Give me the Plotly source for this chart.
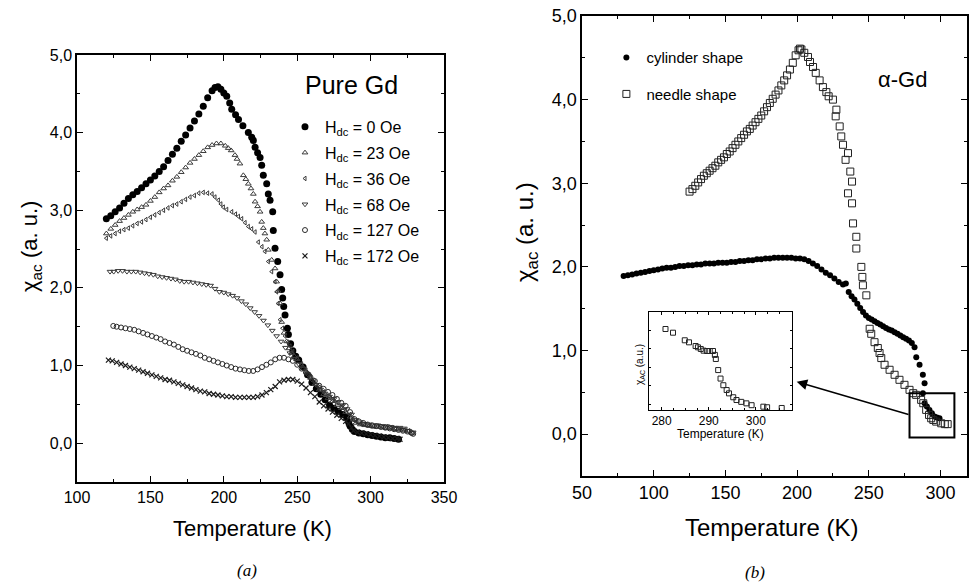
import plotly.graph_objects as go

# ---------------- panel (a): Pure Gd ----------------
T_h0 = [120, 123, 126, 129, 132, 135, 138, 141, 144, 147, 150, 153, 156, 159, 162, 165, 168, 171, 174, 177,
        180, 183, 186, 189, 192, 194, 196, 198, 200, 202, 204, 205.4, 208, 210, 213, 216.7, 219, 220.1, 221.3, 223,
        224.7, 225.8, 226.9, 229.2, 230.3, 231.5, 233.3, 233.7, 234.9, 236.7, 238.3, 239.4, 240.1, 240.8, 241.7, 243.3,
        244, 245.5, 247, 249, 251, 254, 257, 260, 263, 266, 269, 272, 275, 278, 281, 283.7, 285, 286, 287.5, 289,
        292, 295, 298, 301, 304, 307, 310, 313, 316, 319]
chi_h0 = [2.89, 2.93, 2.98, 3.03, 3.09, 3.15, 3.20, 3.24, 3.29, 3.34, 3.39, 3.44, 3.50, 3.56, 3.64, 3.72, 3.80, 3.89, 3.97, 4.06,
          4.15, 4.24, 4.34, 4.45, 4.54, 4.58, 4.59, 4.56, 4.51, 4.47, 4.38, 4.30, 4.23, 4.17, 4.09, 4.00, 3.94, 3.90, 3.81, 3.74,
          3.68, 3.58, 3.45, 3.34, 3.21, 3.13, 2.98, 2.74, 2.51, 2.34, 2.17, 1.98, 1.87, 1.76, 1.65, 1.48,
          1.40, 1.28, 1.19, 1.12, 1.07, 0.98, 0.88, 0.78, 0.70, 0.63, 0.56, 0.49, 0.45, 0.41, 0.37, 0.33, 0.27, 0.22, 0.18, 0.15,
          0.13, 0.12, 0.11, 0.10, 0.09, 0.08, 0.07, 0.07, 0.06, 0.05]

T_h23 = [120, 123, 126, 129, 132, 135, 138, 141, 144, 147, 150, 153, 156, 159, 162, 165, 168, 171, 174, 177,
         180, 183, 186, 189, 192, 195, 198, 201, 203, 205, 207.6, 209, 211, 213.3, 215, 216.7, 218.5, 220.1, 221.3, 223,
         224.7, 225.8, 226.9, 228, 229.2, 230.3, 232.6, 234.9, 236, 237, 238.3, 239.4, 241, 242.8, 244.5, 246.3, 248, 250,
         253, 256, 259, 262, 265, 268, 271, 274, 277, 280, 283, 286, 288, 290, 293, 296, 299, 302, 305, 308,
         311, 314, 317, 320, 323, 326, 328]
chi_h23 = [2.70, 2.76, 2.81, 2.86, 2.90, 2.94, 2.98, 3.01, 3.04, 3.07, 3.12, 3.17, 3.23, 3.28, 3.32, 3.38, 3.43, 3.49, 3.55, 3.61,
           3.66, 3.71, 3.76, 3.81, 3.84, 3.86, 3.86, 3.83, 3.80, 3.77, 3.71, 3.66, 3.60, 3.45, 3.40, 3.34, 3.28, 3.21, 3.11, 3.05,
           2.98, 2.85, 2.77, 2.70, 2.62, 2.49, 2.36, 2.25, 2.08, 1.96, 1.80, 1.56, 1.42, 1.31, 1.22, 1.16, 1.12, 1.08,
           1.00, 0.92, 0.84, 0.76, 0.69, 0.63, 0.58, 0.54, 0.49, 0.45, 0.40, 0.34, 0.30, 0.26, 0.24, 0.23, 0.22, 0.21, 0.21, 0.20,
           0.19, 0.19, 0.18, 0.17, 0.16, 0.15, 0.13]

T_h36 = [120, 123, 126, 129, 132, 135, 138, 141, 144, 147, 150, 153, 156, 159, 162, 165, 168, 171, 174, 177,
         180, 183, 186, 189, 192, 194, 196.3, 198, 199.7, 202, 205.4, 208, 210, 212.2, 214.5, 216.7, 219, 221.3, 223.5, 226,
         228, 230.3, 232.6, 234.9, 236, 237, 238.3, 240, 241.7, 243.5, 245.1, 247, 250, 253, 256, 259, 262, 265, 268, 271,
         274, 277, 280, 283, 286, 288, 290, 293, 296, 299, 302, 305, 308, 311, 314, 317, 320, 323, 326]
chi_h36 = [2.64, 2.67, 2.70, 2.73, 2.75, 2.77, 2.80, 2.83, 2.85, 2.88, 2.91, 2.94, 2.97, 3.00, 3.03, 3.06, 3.08, 3.11, 3.14, 3.17,
           3.19, 3.22, 3.23, 3.22, 3.21, 3.17, 3.13, 3.08, 3.04, 3.01, 2.98, 2.95, 2.92, 2.89, 2.84, 2.79, 2.76, 2.72, 2.59, 2.53,
           2.47, 2.34, 2.21, 2.08, 1.95, 1.80, 1.59, 1.48, 1.38, 1.30, 1.25, 1.18, 1.10, 1.02, 0.94, 0.86, 0.79, 0.72, 0.66, 0.61,
           0.56, 0.52, 0.47, 0.43, 0.37, 0.32, 0.28, 0.25, 0.24, 0.23, 0.22, 0.22, 0.21, 0.21, 0.20, 0.19, 0.18, 0.17, 0.16]

T_h68 = [122.5, 125, 128, 131, 134, 137, 140, 143, 146, 149, 152, 155, 158, 161, 164, 167, 170, 173, 176, 179,
         182, 185, 188, 191, 194, 197, 200, 203, 206, 209, 212, 215, 218, 221, 224, 227, 230, 233, 236, 239,
         242, 245, 248, 251, 254, 257, 260, 263, 266, 269, 272, 275, 278, 281, 284, 287, 290, 293, 296, 299,
         302, 305, 308, 311, 314, 317, 320, 323, 326, 329]
chi_h68 = [2.21, 2.21, 2.22, 2.22, 2.21, 2.21, 2.21, 2.20, 2.19, 2.18, 2.17, 2.15, 2.14, 2.13, 2.12, 2.11, 2.09, 2.08, 2.08, 2.07,
           2.06, 2.05, 2.04, 2.03, 1.99, 1.95, 1.94, 1.92, 1.90, 1.87, 1.83, 1.79, 1.74, 1.69, 1.64, 1.58, 1.52, 1.45, 1.38, 1.31,
           1.23, 1.16, 1.09, 1.02, 0.96, 0.89, 0.82, 0.75, 0.69, 0.64, 0.60, 0.57, 0.53, 0.49, 0.44, 0.37, 0.30, 0.27, 0.25, 0.24,
           0.23, 0.23, 0.22, 0.22, 0.21, 0.20, 0.20, 0.19, 0.16, 0.14]

T_h127 = [124.7, 127, 130, 133, 136, 139, 142, 145, 148, 151, 154, 157, 160, 163, 166, 169, 172, 175, 178, 181,
          184, 187, 190, 193, 196, 199, 202, 205, 208, 211, 214, 217, 220, 223, 226, 229, 232, 235, 238, 241,
          244, 247, 250, 253, 256, 259, 262, 265, 268, 271, 274, 277, 280, 283, 286, 289, 292, 295, 298, 301,
          304, 307, 310, 313, 316, 319, 322, 325, 328, 329]
chi_h127 = [1.51, 1.50, 1.49, 1.48, 1.47, 1.46, 1.44, 1.42, 1.40, 1.38, 1.36, 1.34, 1.31, 1.29, 1.27, 1.24, 1.21, 1.19, 1.17, 1.15,
            1.13, 1.10, 1.08, 1.06, 1.04, 1.02, 1.00, 0.98, 0.96, 0.95, 0.94, 0.93, 0.93, 0.95, 0.98, 1.01, 1.04, 1.08, 1.10, 1.10,
            1.08, 1.06, 1.01, 0.96, 0.91, 0.85, 0.80, 0.74, 0.70, 0.66, 0.62, 0.57, 0.52, 0.48, 0.40, 0.31, 0.28, 0.26, 0.24, 0.23,
            0.22, 0.21, 0.20, 0.19, 0.18, 0.17, 0.16, 0.15, 0.13, 0.12]

T_h172 = [121.4, 124, 127, 130, 133, 136, 139, 142, 145, 148, 151, 154, 157, 160, 163, 166, 169, 172, 175, 178,
          181, 184, 187, 190, 193, 196, 199, 202, 205, 208, 211, 214, 217, 220, 223, 226, 229, 232, 235, 238,
          241, 244, 247, 250, 253, 256, 259, 262, 265, 268, 271, 274, 277, 280, 283, 285, 287, 288.3, 291, 294,
          297, 300, 303, 306, 309, 312, 315, 318, 320]
chi_h172 = [1.07, 1.06, 1.04, 1.02, 1.00, 0.98, 0.96, 0.94, 0.92, 0.90, 0.88, 0.86, 0.84, 0.82, 0.81, 0.79, 0.77, 0.75, 0.73, 0.71,
            0.69, 0.67, 0.66, 0.64, 0.63, 0.62, 0.61, 0.60, 0.60, 0.59, 0.59, 0.59, 0.59, 0.59, 0.60, 0.62, 0.65, 0.69, 0.73, 0.79,
            0.81, 0.82, 0.82, 0.80, 0.76, 0.71, 0.65, 0.60, 0.53, 0.48, 0.44, 0.40, 0.36, 0.32, 0.28, 0.25, 0.20, 0.16, 0.14, 0.13,
            0.12, 0.11, 0.10, 0.09, 0.08, 0.07, 0.06, 0.06, 0.05]

labels_a = ["H<sub>dc</sub> = 0 Oe", "H<sub>dc</sub> = 23 Oe", "H<sub>dc</sub> = 36 Oe",
            "H<sub>dc</sub> = 68 Oe", "H<sub>dc</sub> = 127 Oe", "H<sub>dc</sub> = 172 Oe"]

# ---------------- panel (b): alpha-Gd ----------------
T_cyl = [79, 82, 85, 88, 91, 94, 97, 100, 103, 106, 109, 112, 115, 118, 121, 124, 127, 130, 133, 136,
         139, 142, 145, 148, 151, 154, 157, 160, 163, 166, 169, 172, 175, 178, 181, 184, 187, 190, 193, 196,
         199, 202, 205, 208, 211, 214, 217, 220, 223, 226, 229, 232, 234, 236, 238, 240, 242, 244, 246, 248,
         250, 252, 254, 256, 258, 260, 262, 264, 266, 268, 270, 272, 274, 276, 278, 280, 281.9, 283.1, 285.4, 287.7,
         288.9, 287.7, 288.9, 290.5, 292.3, 294, 295.8, 297.5, 299.3]
chi_cyl = [1.89, 1.90, 1.91, 1.92, 1.93, 1.94, 1.95, 1.96, 1.97, 1.98, 1.99, 1.99, 2.00, 2.01, 2.01, 2.02, 2.02, 2.03, 2.03, 2.04,
           2.04, 2.04, 2.05, 2.05, 2.05, 2.06, 2.06, 2.07, 2.07, 2.08, 2.08, 2.09, 2.09, 2.10, 2.10, 2.11, 2.11, 2.11, 2.11, 2.11,
           2.10, 2.10, 2.09, 2.07, 2.04, 2.01, 1.97, 1.93, 1.90, 1.86, 1.82, 1.79, 1.80, 1.70, 1.65, 1.61, 1.56, 1.51, 1.46, 1.42,
           1.39, 1.37, 1.35, 1.33, 1.31, 1.29, 1.27, 1.25, 1.24, 1.22, 1.20, 1.18, 1.16, 1.14, 1.12, 1.09, 1.04, 0.92, 0.83, 0.71,
           0.61, 0.49, 0.37, 0.33, 0.29, 0.25, 0.21, 0.20, 0.19]

T_ndl = [125, 127, 129, 131, 133, 135, 137, 139, 141, 143, 145, 147, 149, 151, 153, 155, 157, 159, 161, 163,
         165, 167, 169, 171, 173, 175, 177, 179, 181, 183, 185, 187, 189, 191, 193, 195, 197, 199, 201, 202,
         203, 205, 207.6, 209, 211.1, 213, 215.7, 218, 220.4, 222, 225, 227.4, 226.9, 229.7, 230.8, 232, 235.5, 233.8, 237.1, 238.3,
         235.5, 238.3, 239, 241.3, 241.3, 244.8, 245.5, 245.9, 248.3, 250.6, 251.7, 254, 256.3, 257.5, 258.7, 261, 264.5, 268, 271.4, 274.9,
         278.4, 281, 283, 286.5, 288, 290, 292, 293.5, 295, 297, 300.5, 303, 305]
chi_ndl = [2.90, 2.93, 2.97, 3.01, 3.05, 3.09, 3.12, 3.15, 3.18, 3.21, 3.25, 3.28, 3.31, 3.35, 3.38, 3.42, 3.46, 3.50, 3.54, 3.58,
           3.62, 3.65, 3.69, 3.73, 3.77, 3.81, 3.86, 3.91, 3.96, 4.01, 4.06, 4.11, 4.17, 4.23, 4.29, 4.36, 4.44, 4.53, 4.59, 4.61,
           4.60, 4.56, 4.51, 4.45, 4.39, 4.32, 4.23, 4.15, 4.09, 4.04, 4.00, 3.88, 3.80, 3.68, 3.56, 3.46, 3.36, 3.28, 3.14, 3.02,
           2.88, 2.76, 2.52, 2.36, 2.22, 2.00, 1.88, 1.78, 1.66, 1.26, 1.20, 1.10, 1.03, 0.97, 0.91, 0.83, 0.77, 0.71, 0.65, 0.59,
           0.53, 0.49, 0.47, 0.41, 0.37, 0.29, 0.23, 0.19, 0.17, 0.15, 0.13, 0.12, 0.12]

# inset (zoom of the framed region, needle shape)
T_ins = [280.8, 282.4, 284.9, 285.8, 287.2, 287.7, 288.3, 288.9, 289.6, 290.2, 290.9, 291.3, 291.5, 292.0, 292.5, 293.1,
         293.8, 294.3, 295.2, 295.9, 296.9, 298.0, 299.1, 301.6, 302.4, 305.5]
chi_ins = [0.408, 0.388, 0.347, 0.336, 0.316, 0.309, 0.300, 0.291, 0.289, 0.289, 0.289, 0.268, 0.246, 0.186, 0.140, 0.104,
           0.078, 0.060, 0.039, 0.024, 0.014, 0.006, -0.004, -0.012, -0.015, -0.019]

FONT = "Liberation Sans, Arial, sans-serif"
fig = go.Figure()

# panel (a) traces
style_a = [
    dict(symbol="circle", size=7, color="black", line=dict(width=0)),
    dict(symbol="triangle-up-open", size=5, color="#3a3a3a", line=dict(width=1)),
    dict(symbol="triangle-left-open", size=4, color="#3a3a3a", line=dict(width=1)),
    dict(symbol="triangle-down-open", size=5, color="#3a3a3a", line=dict(width=1)),
    dict(symbol="circle-open", size=5, color="#2a2a2a", line=dict(width=1)),
    dict(symbol="x-thin-open", size=5, color="#1a1a1a", line=dict(width=1.2)),
]
data_a = [(T_h0, chi_h0), (T_h23, chi_h23), (T_h36, chi_h36), (T_h68, chi_h68),
          (T_h127, chi_h127), (T_h172, chi_h172)]
for (tx, cy), lab, st in zip(data_a, labels_a, style_a):
    fig.add_trace(go.Scatter(x=tx, y=cy, mode="markers", name=lab, marker=st,
                             xaxis="x", yaxis="y", legend="legend", legendgroup=lab))

# panel (b) traces
fig.add_trace(go.Scatter(x=T_cyl, y=chi_cyl, mode="markers", name="cylinder shape",
                         marker=dict(symbol="circle", size=6, color="black"),
                         xaxis="x2", yaxis="y2", legend="legend2", legendgroup="cyl"))
fig.add_trace(go.Scatter(x=T_ndl, y=chi_ndl, mode="markers", name="needle shape",
                         marker=dict(symbol="square-open", size=7, color="#222", line=dict(width=1)),
                         xaxis="x2", yaxis="y2", legend="legend2", legendgroup="ndl"))
fig.add_trace(go.Scatter(x=T_ins, y=chi_ins, mode="markers", showlegend=False,
                         marker=dict(symbol="square-open", size=5, color="#222", line=dict(width=1)),
                         xaxis="x3", yaxis="y3"))

ax_common = dict(showline=True, linecolor="black", linewidth=1.5, mirror="ticks", ticks="inside",
                 ticklen=6, tickwidth=1.2, tickcolor="black", showgrid=False, zeroline=False,
                 automargin=False)

fig.update_layout(
    width=971, height=588,
    margin=dict(l=0, r=0, t=0, b=0, pad=0, autoexpand=False),
    paper_bgcolor="white", plot_bgcolor="white",
    separators=", ",
    font=dict(family=FONT, color="black"),
    xaxis=dict(domain=[0.0793, 0.4573], range=[100, 350], dtick=50, anchor="y",
               minor=dict(dtick=25, ticks="inside", ticklen=3, tickcolor="black"),
               tickfont=dict(size=16), **ax_common),
    yaxis=dict(domain=[0.1803, 0.9065], range=[-0.5, 5.0], dtick=1, tickformat=".1f", anchor="x",
               minor=dict(dtick=0.5, ticks="inside", ticklen=3, tickcolor="black"),
               tickfont=dict(size=16), **ax_common),
    xaxis2=dict(domain=[0.5994, 0.9959], range=[50, 318.5], dtick=50, anchor="y2",
                minor=dict(dtick=25, ticks="inside", ticklen=3, tickcolor="black"),
                tickfont=dict(size=18), **ax_common),
    yaxis2=dict(domain=[0.1905, 0.9728], range=[-0.5, 5.0], dtick=1, tickformat=".1f", anchor="x2",
                minor=dict(dtick=0.5, ticks="inside", ticklen=3, tickcolor="black"),
                tickfont=dict(size=18), **ax_common),
    xaxis3=dict(domain=[0.6684, 0.8157], range=[277.3, 307.7], dtick=10, anchor="y3",
                showline=True, linecolor="black", linewidth=1, mirror="ticks", ticks="inside",
                ticklen=3, tickcolor="black", showgrid=False, zeroline=False, automargin=False,
                minor=dict(dtick=2.5, ticks="inside", ticklen=2, tickcolor="black"),
                tickfont=dict(size=12)),
    yaxis3=dict(domain=[0.3027, 0.4694], range=[-0.03, 0.5], anchor="x3", showticklabels=False,
                showline=True, linecolor="black", linewidth=1, mirror="ticks", ticks="inside",
                ticklen=2, tickcolor="black", dtick=0.1, showgrid=False, zeroline=False, automargin=False),
    legend=dict(x=0.2935, y=0.813, xanchor="left", yanchor="top", bgcolor="rgba(0,0,0,0)",
                font=dict(size=16, family=FONT), tracegroupgap=2, itemsizing="trace"),
    legend2=dict(x=0.6245, y=0.930, xanchor="left", yanchor="top", bgcolor="rgba(0,0,0,0)",
                 font=dict(size=15, family=FONT), tracegroupgap=14, itemsizing="trace"),
    shapes=[dict(type="rect", xref="x2", yref="y2", x0=278.4, x1=309.7, y0=-0.04, y1=0.49,
                 line=dict(color="black", width=2))],
)

ann = [
    dict(text="Pure Gd", x=0.3615, y=0.8554, font=dict(size=25)),
    dict(text="α-Gd", x=0.929, y=0.864, font=dict(size=22)),
    dict(text="Temperature (K)", x=252.5 / 971, y=1 - 528 / 588, font=dict(size=22)),
    dict(text="Temperature (K)", x=771 / 971, y=1 - 527 / 588, font=dict(size=24)),
    dict(text="χ<sub>ac</sub> (a. u.)", x=31 / 971, y=1 - 247 / 588, textangle=-90, font=dict(size=22)),
    dict(text="χ<sub>ac</sub> (a. u.)", x=526 / 971, y=1 - 232 / 588, textangle=-90, font=dict(size=24)),
    dict(text="Temperature (K)", x=720.7 / 971, y=1 - 434 / 588, font=dict(size=12)),
    dict(text="χ<sub>AC</sub> (a.u.)", x=640 / 971, y=1 - 365 / 588, textangle=-90, font=dict(size=10)),
    dict(text="<i>(a)</i>", x=247 / 971, y=1 - 570 / 588, font=dict(size=17, family="Liberation Serif, serif")),
    dict(text="<i>(b)</i>", x=755 / 971, y=1 - 572 / 588, font=dict(size=17, family="Liberation Serif, serif")),
]
for a in ann:
    a.setdefault("xref", "paper")
    a.setdefault("yref", "paper")
    a["showarrow"] = False
    a["xanchor"] = "center"
    a["yanchor"] = "middle"
    fig.add_annotation(**a)

fig.add_annotation(xref="paper", yref="paper", x=796.7 / 971, y=1 - 381.7 / 588,
                   ax=113.3, ay=33.3, showarrow=True, arrowhead=2, arrowsize=1.4,
                   arrowwidth=1.5, arrowcolor="black", text="")

fig.write_html("out.html", config={"displayModeBar": False},
               post_script="document.body.style.margin='0px';")
